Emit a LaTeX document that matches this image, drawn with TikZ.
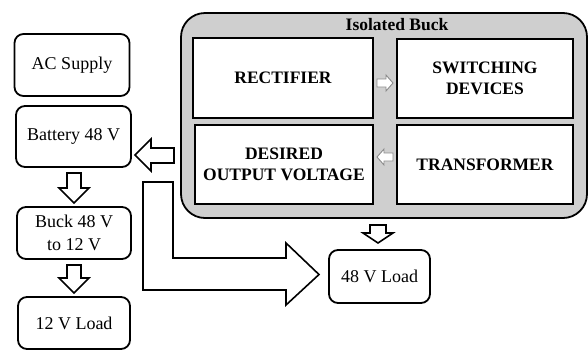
\documentclass[tikz,border=0pt]{standalone}
\usepackage{fontspec}
\setmainfont{Liberation Serif}
\begin{document}
\begin{tikzpicture}[x=1pt,y=-1pt,
  outerbox/.style={draw=black,line width=1.8pt,rounded corners=9pt,fill=white,inner sep=0pt,font=\fontsize{18}{22.5}\selectfont,align=center},
  innerbox/.style={draw=black,line width=2.2pt,fill=white,inner sep=0pt,font=\bfseries\fontsize{17.5}{21}\selectfont,align=center},
  blockarrow/.style={draw=black,line width=1.6pt,fill=white,line join=miter},
  smallarrow/.style={draw=black!45,line width=0.9pt,fill=white,line join=miter}]
\useasboundingbox (0,0) rectangle (588,349);
% container
\node[draw=black,line width=1.8pt,rounded corners=24pt,fill=black!19,minimum width=406pt,minimum height=205pt,inner sep=0pt] (iso) at (384,115.5) {};
\node[font=\bfseries\fontsize{17.5}{20}\selectfont] (isot) at (397,25) {Isolated Buck};
% inner boxes
\node[innerbox,minimum width=180pt,minimum height=80pt] (rect) at (283,78) {RECTIFIER};
\node[innerbox,minimum width=176pt,minimum height=79pt] (sw) at (485,78.5) {SWITCHING\\DEVICES};
\node[innerbox,minimum width=178pt,minimum height=79pt] (des) at (284,164.5) {DESIRED\\OUTPUT VOLTAGE};
\node[innerbox,minimum width=176pt,minimum height=79pt] (tr) at (485,164.5) {TRANSFORMER};
% left column
\node[outerbox,minimum width=115pt,minimum height=62pt] (ac) at (72,65) {AC Supply};
\node[outerbox,minimum width=115pt,minimum height=61pt] (bat) at (73.5,136.5) {Battery 48 V};
\node[outerbox,minimum width=114pt,minimum height=52pt] (buck) at (74,233) {Buck 48 V\\to 12 V};
\node[outerbox,minimum width=112pt,minimum height=52pt] (l12) at (74,323) {12 V Load};
\node[outerbox,minimum width=101pt,minimum height=53pt] (l48) at (379.5,276.5) {48 V Load};
% small arrows inside container
\draw[smallarrow] (377,79) -- (386,79) -- (386,75) -- (393,83) -- (386,91) -- (386,87) -- (377,87) -- cycle;
\draw[smallarrow] (393,153) -- (384,153) -- (384,149) -- (377,157) -- (384,165) -- (384,161) -- (393,161) -- cycle;
% down arrows
\draw[blockarrow] (67,173) -- (81,173) -- (81,188) -- (89,188) -- (74,203) -- (59,188) -- (67,188) -- cycle;
\draw[blockarrow] (67,265) -- (81,265) -- (81,278) -- (89,278) -- (74,293) -- (59,278) -- (67,278) -- cycle;
\draw[blockarrow] (370,225) -- (386,225) -- (386,233) -- (393,233) -- (378,243) -- (363,233) -- (370,233) -- cycle;
% left arrow to battery
\draw[blockarrow] (174,148) -- (151,148) -- (151,139) -- (135,155) -- (151,171) -- (151,163) -- (174,163) -- cycle;
% big L arrow
\draw[blockarrow] (143,182) -- (173,182) -- (173,258) -- (286,258) -- (286,243) -- (319,274.5) -- (286,305) -- (286,290) -- (143,290) -- cycle;
\end{tikzpicture}
\end{document}
